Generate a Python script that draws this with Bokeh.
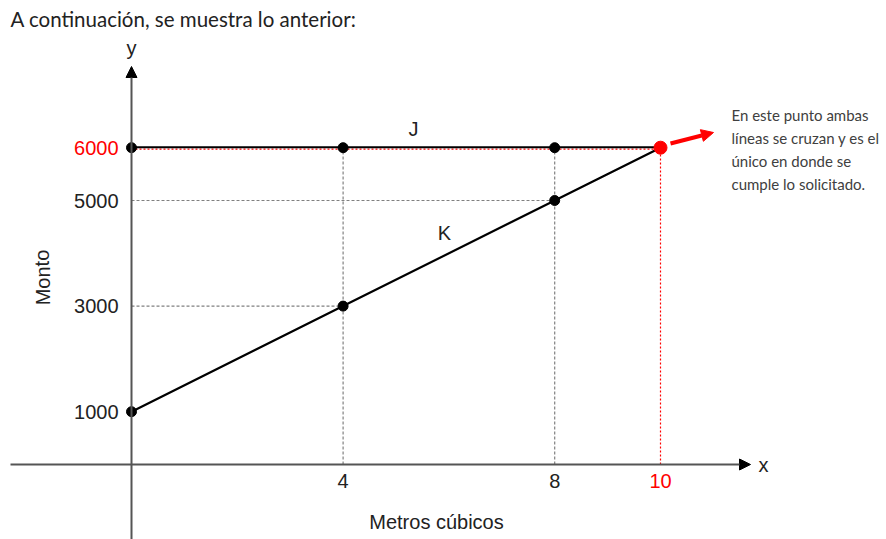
from bokeh.plotting import figure
from bokeh.models import Range1d, Arrow, NormalHead
from bokeh.core.properties import value
from bokeh.embed import file_html
from bokeh.resources import INLINE

# ---- data ----
x_vals = [0, 4, 8, 10]
j_vals = [6000, 6000, 6000, 6000]
k_vals = [1000, 3000, 5000, 6000]
y_ticks = [1000, 3000, 5000, 6000]
y_tick_labels = ["1000", "3000", "5000", "6000"]
y_tick_colors = ["#222222", "#222222", "#222222", "#ff0000"]
x_ticks = [4, 8, 10]
x_tick_labels = ["4", "8", "10"]
x_tick_colors = ["#222222", "#222222", "#ff0000"]
note_lines = ["En este punto ambas", "líneas se cruzan y es el",
              "único en donde se", "cumple lo solicitado."]

# pixel->data helpers (layout only)
PX = 52.9      # px per x unit
PY = 52.8      # px per 1000 y units
def X(px):
    return (px - 131) / PX
def Y(py):
    return (464 - py) * 1000 / PY

W, H = 886, 539
p = figure(width=W, height=H, output_backend="svg", toolbar_location=None,
           x_range=Range1d(X(0), X(W)), y_range=Range1d(Y(H), Y(0)),
           x_axis_type=None, y_axis_type=None, min_border=0,
           outline_line_color=None, background_fill_color="white")
p.grid.visible = False

axis_col = "#555555"
# axes with arrows
p.add_layout(Arrow(end=NormalHead(size=11, fill_color="black", line_color="black"),
                   x_start=X(10), y_start=0, x_end=X(750), y_end=0,
                   line_color=axis_col, line_width=2))
p.add_layout(Arrow(end=NormalHead(size=11, fill_color="black", line_color="black"),
                   x_start=0, y_start=Y(545), x_end=0, y_end=Y(66),
                   line_color=axis_col, line_width=2))

# guide dashed lines (gray)
gx0 = [0, 0, x_vals[1], x_vals[2]]
gx1 = [x_vals[2], x_vals[1], x_vals[1], x_vals[2]]
gy0 = [k_vals[2], k_vals[1], 0, 0]
gy1 = [k_vals[2], k_vals[1], j_vals[1], j_vals[2]]
p.segment(x0=gx0, y0=gy0, x1=gx1, y1=gy1, line_color="#808080",
          line_width=1.2, line_dash="3 2")

# red dotted lines at the crossing
off = 1.5 * 1000 / PY
p.segment(x0=[0, x_vals[3]], y0=[j_vals[3] - off, 0],
          x1=[x_vals[3], x_vals[3]], y1=[j_vals[3] - off, j_vals[3]],
          line_color="#ff0000", line_width=1.2, line_dash="2 2")

# lines J and K
p.line(x_vals, [j + off * 0.3 for j in j_vals], line_color="black", line_width=2)
p.line(x_vals, k_vals, line_color="black", line_width=2.2)

# points
p.scatter([0, 4, 8, 0, 4, 8], j_vals[:3] + k_vals[:3], size=10,
          fill_color="black", line_color="black")
p.scatter([x_vals[3]], [j_vals[3]], size=13, fill_color="#ff0000", line_color="#ff0000")

# red arrow
p.add_layout(Arrow(end=NormalHead(size=12, fill_color="#ff0000", line_color="#ff0000"),
                   x_start=X(670), y_start=Y(143), x_end=X(713), y_end=Y(132),
                   line_color="#ff0000", line_width=4))

tfont = value("Liberation Sans")
FS = "20px"
# y tick labels
p.text(x=[X(118)] * 4, y=y_ticks, text=y_tick_labels, text_color=y_tick_colors,
       text_font=tfont, text_font_size=FS, text_align="right",
       text_baseline="middle")
# x tick labels
p.text(x=x_ticks, y=[Y(480)] * 3, text=x_tick_labels, text_color=x_tick_colors,
       text_font=tfont, text_font_size=FS, text_align="center",
       text_baseline="middle")
# axis names
p.text(x=[X(763)], y=[0], text=["x"], text_font=tfont, text_font_size=FS,
       text_color="#222222", text_align="center", text_baseline="middle")
p.text(x=[0], y=[Y(47)], text=["y"], text_font=tfont, text_font_size=FS,
       text_color="#222222", text_align="center", text_baseline="middle")
# line names
p.text(x=[X(413)], y=[Y(128)], text=["J"], text_font=tfont, text_font_size=FS,
       text_color="#222222", text_align="center", text_baseline="middle")
p.text(x=[X(444)], y=[Y(232)], text=["K"], text_font=tfont, text_font_size=FS,
       text_color="#222222", text_align="center", text_baseline="middle")
# axis titles
p.text(x=[X(42)], y=[Y(277)], text=["Monto"], angle=1.5708, text_font=tfont,
       text_font_size=FS, text_color="#222222", text_align="center",
       text_baseline="middle")
p.text(x=[X(436)], y=[Y(521)], text=["Metros cúbicos"], text_font=tfont,
       text_font_size=FS, text_color="#222222", text_align="center",
       text_baseline="middle")
# note
p.text(x=[X(731)] * 4, y=[Y(114), Y(137), Y(160), Y(183)], text=note_lines,
       text_font=value("Lato"), text_font_size="15px", text_color="#404040",
       text_align="left", text_baseline="middle")
# title
p.text(x=[X(10)], y=[Y(18)], text=["A continuación, se muestra lo anterior:"],
       text_font=value("Lato"), text_font_size="20.5px", text_color="#222222",
       text_align="left", text_baseline="middle")

open("out.html", "w").write(file_html(p, INLINE))
